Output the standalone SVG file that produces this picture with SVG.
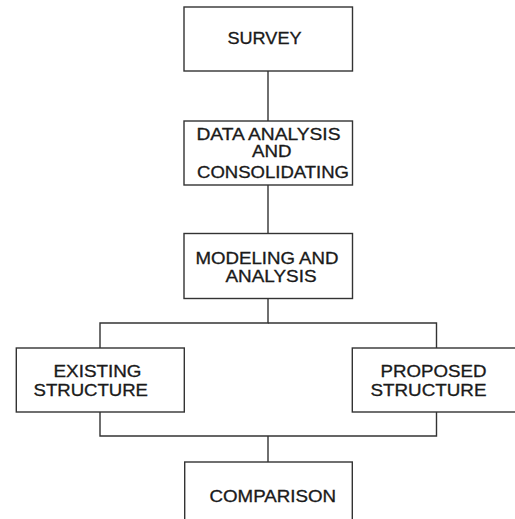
<svg xmlns="http://www.w3.org/2000/svg" width="515" height="519" viewBox="0 0 515 519">
<style>
.box{fill:#fff;stroke:#333;stroke-width:1.4}
.ln{fill:none;stroke:#333;stroke-width:1.4}
text{font-family:"Liberation Sans",Arial,sans-serif;font-size:15.8px;fill:#1a1a1a;stroke:#1a1a1a;stroke-width:0.3}
</style>
<rect width="515" height="519" fill="#fff"/>
<g id="connectors">
<line class="ln" x1="268" y1="71" x2="268" y2="121"/>
<line class="ln" x1="268" y1="185" x2="268" y2="233"/>
<polyline class="ln" points="268,298 268,323 100,323 100,348"/>
<polyline class="ln" points="268,323 436.5,323 436.5,348"/>
<polyline class="ln" points="100,412 100,436 436.5,436 436.5,412"/>
<line class="ln" x1="268" y1="436" x2="268" y2="462"/>
</g>
<g id="survey">
<rect class="box" x="184" y="7" width="168.5" height="64"/>
<text x="227.5" y="44" textLength="74" lengthAdjust="spacingAndGlyphs">SURVEY</text>
</g>
<g id="data">
<rect class="box" x="184" y="121" width="168.5" height="64"/>
<text x="196.5" y="139.5" textLength="144" lengthAdjust="spacingAndGlyphs">DATA ANALYSIS</text>
<text x="252" y="157" textLength="39.5" lengthAdjust="spacingAndGlyphs">AND</text>
<text x="197" y="177.5" textLength="152" lengthAdjust="spacingAndGlyphs">CONSOLIDATING</text>
</g>
<g id="modeling">
<rect class="box" x="184" y="233.5" width="168.5" height="65"/>
<text x="195.5" y="264" textLength="143" lengthAdjust="spacingAndGlyphs">MODELING AND</text>
<text x="225.5" y="281.5" textLength="91" lengthAdjust="spacingAndGlyphs">ANALYSIS</text>
</g>
<g id="existing">
<rect class="box" x="16.3" y="348" width="168" height="64"/>
<text x="53.5" y="376.7" textLength="88" lengthAdjust="spacingAndGlyphs">EXISTING</text>
<text x="33.5" y="396" textLength="114.5" lengthAdjust="spacingAndGlyphs">STRUCTURE</text>
</g>
<g id="proposed">
<rect class="box" x="352.3" y="348" width="170" height="64"/>
<text x="380.5" y="376.7" textLength="106" lengthAdjust="spacingAndGlyphs">PROPOSED</text>
<text x="370.5" y="396" textLength="116" lengthAdjust="spacingAndGlyphs">STRUCTURE</text>
</g>
<g id="comparison">
<rect class="box" x="184.7" y="462" width="167.6" height="70"/>
<text x="209.5" y="501.7" textLength="126.5" lengthAdjust="spacingAndGlyphs">COMPARISON</text>
</g>
</svg>
